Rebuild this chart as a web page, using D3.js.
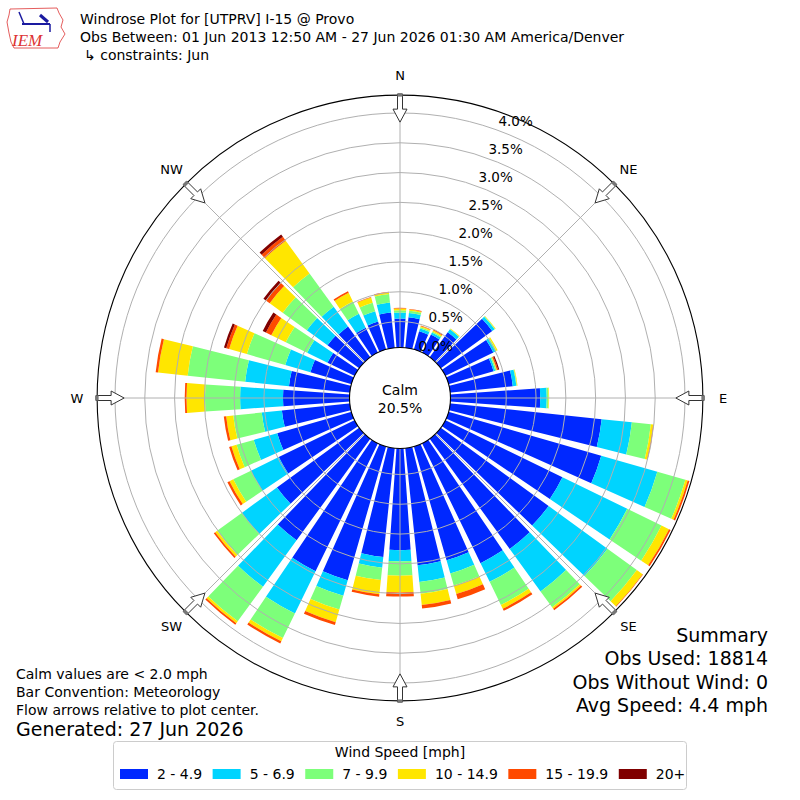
<!DOCTYPE html>
<html>
<head>
<meta charset="utf-8">
<script src="https://cdn.jsdelivr.net/npm/d3@7"></script>
<style>
  body { margin: 0; background: #fff; }
  svg { font-family: "DejaVu Sans", sans-serif; }
</style>
</head>
<body>
<div id="chart"></div>
<script>
// wind directions (deg, meteorological) and percent of obs per speed bin
var directions = [0,10,20,30,40,50,60,70,80,90,100,110,120,130,140,150,160,170,
                  180,190,200,210,220,230,240,250,260,270,280,290,300,310,320,330,340,350];
var spd2to5   = [0.55,0.58,0.38,0.40,0.58,1.13,0.96,0.85,1.12,1.57,2.62,2.73,2.25,2.30,2.35,2.30,2.05,2.04,
                 1.77,1.90,2.40,2.45,2.17,1.77,1.48,1.36,1.21,1.18,1.09,0.78,0.57,0.72,0.70,0.53,0.55,0.66];
var spd5to7   = [0.10,0.07,0.05,0.04,0.06,0.05,0.04,0.03,0.06,0.11,0.51,0.98,1.21,1.22,0.88,0.35,0.23,0.28,
                 0.19,0.18,0.27,0.79,0.96,0.73,0.52,0.41,0.34,0.72,0.74,0.44,0.38,0.43,0.41,0.26,0.18,0.17];
var spd7to10  = [0.04,0.04,0.02,0.02,0.01,0.01,0.02,0.02,0.01,0.03,0.32,0.49,0.64,0.61,0.33,0.43,0.21,0.20,
                 0.24,0.21,0.24,0.46,0.72,0.51,0.33,0.30,0.48,0.59,0.97,0.67,0.40,0.50,0.69,0.23,0.15,0.14];
var spd10to15 = [0.03,0.02,0.02,0.02,0.01,0.01,0.02,0.01,0.01,0.01,0.04,0.04,0.14,0.12,0.03,0.07,0.15,0.19,
                 0.28,0.24,0.22,0.06,0.04,0.04,0.07,0.09,0.12,0.31,0.50,0.31,0.27,0.27,0.68,0.16,0.09,0.03];
var spd15to20 = [0.01,0.01,0.01,0.02,0.00,0.00,0.00,0.02,0.00,0.00,0.01,0.03,0.03,0.01,0.03,0.04,0.09,0.06,
                 0.07,0.04,0.05,0.04,0.03,0.03,0.04,0.04,0.04,0.03,0.04,0.05,0.10,0.08,0.08,0.03,0.01,0.01];
var spd20plus = [0,0,0,0,0,0,0,0.02,0,0,0,0,0,0,0,0,0,0,
                 0,0,0,0,0,0,0,0,0,0,0,0.04,0.06,0.05,0.05,0,0,0];

var binLabels = ["2 - 4.9", "5 - 6.9", "7 - 9.9", "10 - 14.9", "15 - 19.9", "20+"];
var binColors = ["#0028ff", "#00d4ff", "#7dff7a", "#ffe600", "#ff4a00", "#800000"];
var ringTicks = [0, 0.5, 1.0, 1.5, 2.0, 2.5, 3.0, 3.5, 4.0];
var compass = [["N",0],["NE",45],["E",90],["SE",135],["S",180],["SW",225],["W",270],["NW",315]];

var titleLines = ["Windrose Plot for [UTPRV] I-15 @ Provo",
                  "Obs Between: 01 Jun 2013 12:50 AM - 27 Jun 2026 01:30 AM America/Denver",
                  "\u21b3 constraints: Jun"];
var noteLines = ["Calm values are < 2.0 mph", "Bar Convention: Meteorology", "Flow arrows relative to plot center."];
var summaryLines = ["Summary", "Obs Used: 18814", "Obs Without Wind: 0", "Avg Speed: 4.4 mph"];
var calmPct = 20.5;

var width = 800, height = 800;
var cx = 400, cy = 398;

var svg = d3.select("#chart").append("svg")
            .attr("width", width)
            .attr("height", height);

var rScale = d3.scaleLinear().domain([0, 4.0]).range([46.7, 285]);
var rMax = 4.3;

var table = directions.map(function(d, i) {
  return { dir: d, b0: spd2to5[i], b1: spd5to7[i], b2: spd7to10[i],
           b3: spd10to15[i], b4: spd15to20[i], b5: spd20plus[i] };
});
var stack = d3.stack().keys(["b0","b1","b2","b3","b4","b5"]);
var series = stack(table);

var plot = svg.append("g").attr("transform", "translate(" + cx + "," + cy + ")");

var halfWidth = 4 * Math.PI / 180;
var arc = d3.arc();

// bars
series.forEach(function(s, k) {
  plot.append("g").selectAll("path")
    .data(s)
    .enter().append("path")
    .attr("fill", binColors[k])
    .attr("d", function(d) {
      var a = d.data.dir * Math.PI / 180;
      return arc({ innerRadius: rScale(d[0]), outerRadius: rScale(d[1]),
                   startAngle: a - halfWidth, endAngle: a + halfWidth });
    });
});

// grid rings
plot.append("g").selectAll("circle")
  .data(ringTicks)
  .enter().append("circle")
  .attr("r", function(d) { return rScale(d); })
  .attr("fill", "none")
  .attr("stroke", "#b0b0b0")
  .attr("stroke-width", 1);

// spokes
plot.append("g").selectAll("line")
  .data(compass)
  .enter().append("line")
  .attr("x1", 0).attr("y1", 0)
  .attr("x2", function(d) { return rScale(rMax) * Math.sin(d[1] * Math.PI / 180); })
  .attr("y2", function(d) { return -rScale(rMax) * Math.cos(d[1] * Math.PI / 180); })
  .attr("stroke", "#b0b0b0")
  .attr("stroke-width", 1);

// outer frame
plot.append("circle")
  .attr("r", rScale(rMax))
  .attr("fill", "none")
  .attr("stroke", "#000")
  .attr("stroke-width", 1.1);

// calm circle
plot.append("circle")
  .attr("r", 50.5)
  .attr("fill", "#fff")
  .attr("stroke", "#000")
  .attr("stroke-width", 1.1);
plot.append("text").attr("x", 0).attr("y", -3)
  .attr("text-anchor", "middle").attr("font-size", 14).text("Calm");
plot.append("text").attr("x", 0).attr("y", 15)
  .attr("text-anchor", "middle").attr("font-size", 14).text(calmPct.toFixed(1) + "%");

// ring labels
var labAng = 19.6 * Math.PI / 180;
plot.append("g").selectAll("text")
  .data(ringTicks)
  .enter().append("text")
  .attr("x", function(d) { return rScale(d) * Math.sin(labAng) + 20; })
  .attr("y", function(d) { return -rScale(d) * Math.cos(labAng) - 8.5; })
  .attr("text-anchor", "middle")
  .attr("dominant-baseline", "central")
  .attr("font-size", 13.5)
  .text(function(d) { return d.toFixed(1) + "%"; });

// flow arrows pointing toward centre
function pt(a, r, off) {
  return [r * Math.sin(a) + off * Math.cos(a), -r * Math.cos(a) + off * Math.sin(a)];
}
compass.forEach(function(c) {
  var a = c[1] * Math.PI / 180;
  var R = rScale(rMax);
  var pts = [pt(a, R - 27, 0), pt(a, R - 14, 7), pt(a, R - 14, 2.5), pt(a, R + 1, 2.5),
             pt(a, R + 1, -2.5), pt(a, R - 14, -2.5), pt(a, R - 14, -7)];
  plot.append("polygon")
    .attr("points", pts.map(function(p) { return p.join(","); }).join(" "))
    .attr("fill", "#fff")
    .attr("stroke", "#333")
    .attr("stroke-width", 1);
  var sq = [pt(a, R - 1.5, 2.5), pt(a, R + 2, 2.5), pt(a, R + 2, -2.5), pt(a, R - 1.5, -2.5)];
  plot.append("polygon")
    .attr("points", sq.map(function(p) { return p.join(","); }).join(" "))
    .attr("fill", "#777");
  plot.append("text")
    .attr("x", 323 * Math.sin(a))
    .attr("y", -323 * Math.cos(a))
    .attr("text-anchor", "middle")
    .attr("dominant-baseline", "central")
    .attr("font-size", 13)
    .text(c[0]);
});

// title block
svg.append("g").selectAll("text")
  .data(titleLines)
  .enter().append("text")
  .attr("x", function(d, i) { return i == 2 ? 84 : 80; })
  .attr("y", function(d, i) { return 24 + i * 18; })
  .attr("font-size", 14)
  .text(function(d) { return d; });

// IEM logo (rough)
var logo = svg.append("g");
logo.append("path")
  .attr("d", "M10,9 L57,8 L59,13 L63,20 L61,27 L65,34 L60,42 L58,48 L14,48 L11,42 L9,33 L7,22 L9,15 Z")
  .attr("fill", "none").attr("stroke", "#d33").attr("stroke-width", 0.8);
logo.append("line").attr("x1", 22).attr("y1", 24).attr("x2", 50).attr("y2", 24)
  .attr("stroke", "#1a1aa0").attr("stroke-width", 2);
logo.append("line").attr("x1", 19).attr("y1", 12).attr("x2", 24).attr("y2", 24)
  .attr("stroke", "#1a1aa0").attr("stroke-width", 1.5);
logo.append("line").attr("x1", 40).attr("y1", 15).attr("x2", 48).attr("y2", 22)
  .attr("stroke", "#1a1aa0").attr("stroke-width", 3);
logo.append("line").attr("x1", 50).attr("y1", 24).attr("x2", 50).attr("y2", 32)
  .attr("stroke", "#1a1aa0").attr("stroke-width", 1.5);
logo.append("text").attr("x", 12).attr("y", 46)
  .attr("font-family", "Liberation Serif, serif").attr("font-style", "italic")
  .attr("font-size", 17).attr("fill", "#d33").text("IEM");

// notes bottom left
svg.append("g").selectAll("text")
  .data(noteLines)
  .enter().append("text")
  .attr("x", 16)
  .attr("y", function(d, i) { return 679 + i * 18; })
  .attr("font-size", 14)
  .text(function(d) { return d; });
svg.append("text").attr("x", 16).attr("y", 736)
  .attr("font-size", 19).text("Generated: 27 Jun 2026");

// summary bottom right
svg.append("g").selectAll("text")
  .data(summaryLines)
  .enter().append("text")
  .attr("x", 768)
  .attr("y", function(d, i) { return 642 + i * 23.3; })
  .attr("text-anchor", "end")
  .attr("font-size", 19)
  .text(function(d) { return d; });

// legend
var leg = svg.append("g");
leg.append("rect").attr("x", 113.5).attr("y", 741.5).attr("width", 573).attr("height", 48)
  .attr("rx", 3).attr("fill", "#fff").attr("stroke", "#ccc");
leg.append("text").attr("x", 400).attr("y", 757).attr("text-anchor", "middle")
  .attr("font-size", 14).text("Wind Speed [mph]");
var lx = 120;
binLabels.forEach(function(lbl, i) {
  leg.append("rect").attr("x", lx).attr("y", 769).attr("width", 28).attr("height", 10)
    .attr("fill", binColors[i]);
  var t = leg.append("text").attr("x", lx + 37).attr("y", 779)
    .attr("font-size", 14).text(lbl);
  lx += 37 + t.node().getComputedTextLength() + 10.5;
});
</script>
</body>
</html>
